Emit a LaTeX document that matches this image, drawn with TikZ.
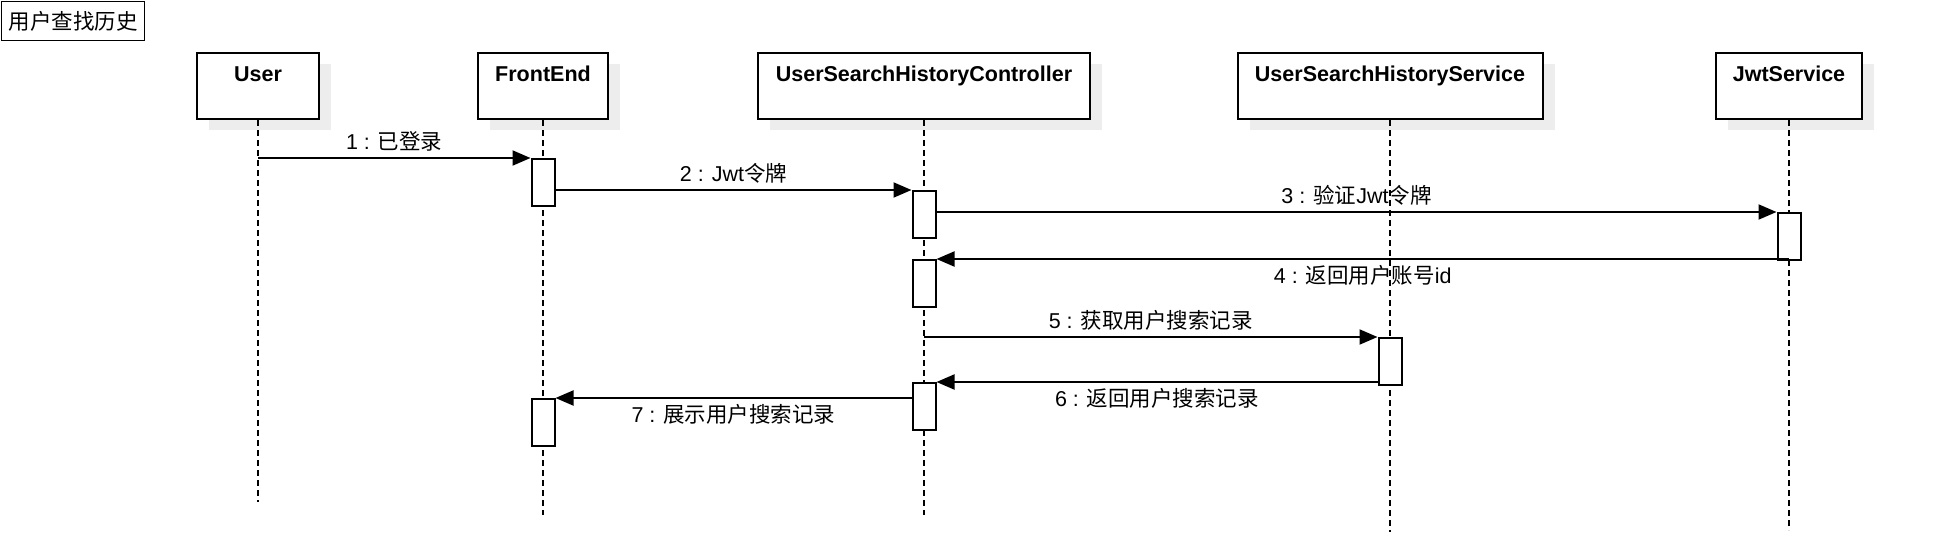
\documentclass[tikz,border=0pt]{standalone}
\usepackage{fontspec}
\setmainfont{Liberation Sans}
\newfontfamily\cjk{Noto Sans CJK SC}
\usetikzlibrary{arrows.meta,shadows}

\begin{document}
\begin{tikzpicture}[x=0.5pt, y=-0.5pt,
    font=\fontsize{10.75}{13}\selectfont,
    head/.style = {draw, line width=1pt, fill=white, anchor=north,
                inner sep=0pt, minimum width=#1, minimum height=33pt,
                text height=14pt, text depth=19pt, font=\fontsize{10.75}{13}\selectfont\bfseries,
                general shadow={fill=black!7, shadow xshift=6pt, shadow yshift=-5.5pt}},
    act/.style = {draw, line width=1pt, fill=white, anchor=north,
                inner sep=0pt, minimum width=11.5pt, minimum height=23.5pt},
    life/.style = {line width=0.8pt, dash pattern=on 3pt off 2pt},
    msg/.style = {line width=1pt, -{Triangle[length=9pt,width=7.5pt]}},
    up/.style = {midway, anchor=base, yshift=4.5pt},
    down/.style = {midway, anchor=base, yshift=-12pt}
                    ]
        \useasboundingbox (0,0) rectangle (1954,557);
        % frame title
        \node[draw, line width=0.7pt, minimum width=71.5pt, minimum height=19.5pt, inner sep=0pt,
              anchor=north west] (frame) at (1,1) {\cjk 用户查找历史};
        % lifeline heads
        \foreach \x/\w/\n/\t in {258/61pt/user/User, 543/65pt/front/FrontEnd,
                                 924/166pt/ctrl/UserSearchHistoryController,
                                 1390/152.5pt/serv/UserSearchHistoryService, 1789/73pt/jwt/JwtService}
            \node[head=\w] (\n) at (\x,52) {\t};
        % lifelines
        \foreach \n/\e in {user/502, front/515, ctrl/515, serv/532, jwt/530}
        {
            \coordinate (\n-end) at (\n.south |- 0,\e);
            \draw[life] (\n.south) -- (\n-end);
        }
        % activations
        \foreach \n/\y/\v in {front/158/fe1, ctrl/190/c1, jwt/212/j1, ctrl/259/c2,
                              serv/337/s1, ctrl/382/c3, front/398/fe2}
            \node[act] (\v) at (\n.south |- 0,\y) {};
        % messages
        \draw[msg] (user.south |- fe1.north) -- (fe1.north west) node[up] {1 : \cjk 已登录};
        \draw[msg] (fe1.east |- c1.north) -- (c1.north west) node[up] {2 : Jwt\cjk 令牌};
        \draw[msg] (c1.east |- j1.north) -- (j1.north west) node[up] {3 : {\cjk 验证}Jwt\cjk 令牌};
        \draw[msg] (jwt.south |- c2.north) -- (c2.north east) node[down] {4 : {\cjk 返回用户账号}id};
        \draw[msg] (ctrl.south |- s1.north) -- (s1.north west) node[up] {5 : \cjk 获取用户搜索记录};
        \draw[msg] (s1.west |- c3.north) -- (c3.north east) node[down] {6 : \cjk 返回用户搜索记录};
        \draw[msg] (c3.west |- fe2.north) -- (fe2.north east) node[down] {7 : \cjk 展示用户搜索记录};
    \end{tikzpicture}
\end{document}
